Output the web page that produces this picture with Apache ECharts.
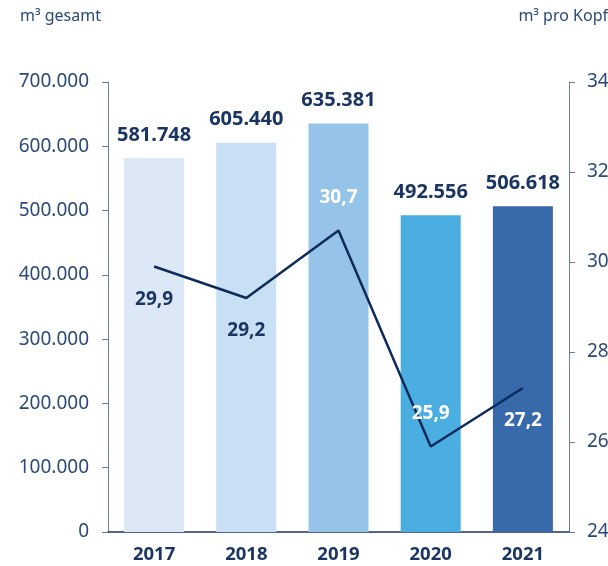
<!DOCTYPE html>
<html lang="de">
<head>
<meta charset="UTF-8">
<title>Wasserverbrauch</title>
<script src="https://cdn.jsdelivr.net/npm/echarts@6/dist/echarts.min.js"></script>
<style>
  html, body { margin: 0; padding: 0; background: #fff; }
  #chart { width: 608px; height: 566px; }
</style>
</head>
<body>
<div id="chart"></div>
<script>
var years = ['2017', '2018', '2019', '2020', '2021'];
var gesamt = [581748, 605440, 635381, 492556, 506618];
var proKopf = [29.9, 29.2, 30.7, 25.9, 27.2];
var barColors = ['#dce8f6', '#c9dff3', '#96c4e9', '#4aaee0', '#3869aa'];
// label placement of the line values (below / above the point, white on dark bars)
var lineLabelPos = ['bottom', 'bottom', 'top', 'top', 'bottom'];
var lineLabelColor = ['#1b3563', '#1b3563', '#ffffff', '#ffffff', '#ffffff'];

var navy = '#1b3563';
var axisGrey = '#6d7f9e';
var font = 'Noto Sans';

function dotted(v) {
    return String(v).replace(/\B(?=(\d{3})+(?!\d))/g, '.');
}

var chart = echarts.init(document.getElementById('chart'));
chart.setOption({
    animation: false,
    textStyle: { fontFamily: font },
    grid: { left: 108, right: 39, top: 82, bottom: 34, outerBoundsMode: 'none' },
    graphic: [
        { type: 'text', left: 20, top: 8, style: { text: 'm³ gesamt', fill: '#2b4a78', font: '16px Noto Sans' } },
        { type: 'text', right: 0, top: 8, style: { text: 'm³ pro Kopf', fill: '#2b4a78', font: '16px Noto Sans' } }
    ],
    xAxis: {
        type: 'category',
        data: years,
        axisLine: { lineStyle: { color: navy, width: 1.5 } },
        axisTick: { show: false },
        axisLabel: { color: navy, fontSize: 18.5, fontWeight: 'bold', margin: 13 }
    },
    yAxis: [{
        type: 'value',
        min: 0, max: 700000, interval: 100000,
        splitLine: { show: false },
        axisLine: { show: true, lineStyle: { color: axisGrey } },
        axisTick: { show: true, length: 6, lineStyle: { color: axisGrey } },
        axisLabel: { color: '#2b4a78', fontSize: 19, margin: 19, formatter: dotted }
    }, {
        type: 'value',
        min: 24, max: 34, interval: 2,
        splitLine: { show: false },
        axisLine: { show: true, lineStyle: { color: axisGrey } },
        axisTick: { show: true, length: 6, lineStyle: { color: axisGrey } },
        axisLabel: { color: '#2b4a78', fontSize: 19, margin: 18 }
    }],
    series: [{
        type: 'bar',
        barWidth: 60,
        data: gesamt.map(function (v, i) {
            return { value: v, itemStyle: { color: barColors[i] } };
        }),
        label: {
            show: true, position: 'top', distance: 13,
            color: navy, fontSize: 20, fontWeight: 'bold',
            formatter: function (p) { return dotted(p.value); }
        }
    }, {
        type: 'line',
        yAxisIndex: 1,
        symbol: 'circle',
        symbolSize: 1,
        itemStyle: { color: 'rgba(0,0,0,0)', borderWidth: 0 },
        lineStyle: { color: '#0d2b5a', width: 2.5 },
        z: 3,
        data: proKopf.map(function (v, i) {
            return {
                value: v,
                label: {
                    show: true, position: lineLabelPos[i], distance: 23,
                    color: lineLabelColor[i], fontSize: 19, fontWeight: 'bold',
                    formatter: function (p) { return String(p.value).replace('.', ','); }
                }
            };
        })
    }]
});
</script>
</body>
</html>
